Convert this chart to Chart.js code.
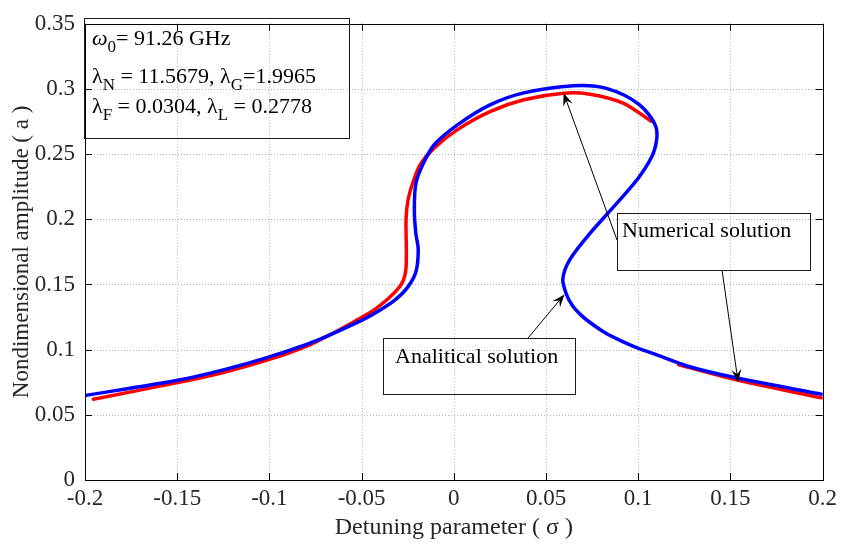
<!DOCTYPE html>
<html>
<head>
<meta charset="utf-8">
<script src="https://cdn.jsdelivr.net/npm/chart.js@4.4.0/dist/chart.umd.min.js"></script>
<style>
  html, body { margin: 0; padding: 0; background: #fff; }
  #wrap { width: 842px; height: 544px; }
</style>
</head>
<body>
<div id="wrap"><canvas id="grafico"></canvas></div>
<script>
/* ----------------------------------------------------------------------
   DADOS
---------------------------------------------------------------------- */
// numerical solution (blue), ordered along the curve
const numX = [-0.2, -0.1505, -0.125, -0.1, -0.077, -0.05, -0.041, -0.032, -0.025, -0.0205, -0.0193,
              -0.0206, -0.0214, -0.0206, -0.0167, -0.0104, 0.0022, 0.0199, 0.038, 0.0649, 0.0828,
              0.1006, 0.1097, 0.1086, 0.1006, 0.0882, 0.0737, 0.0629, 0.0591, 0.0613, 0.0645,
              0.069, 0.0737, 0.082, 0.0919, 0.1005, 0.1097, 0.1274, 0.1543, 0.2];
const numY = [0.0649, 0.0763, 0.0845, 0.0945, 0.1055, 0.1225, 0.1295, 0.138, 0.148, 0.160, 0.1768,
              0.1894, 0.207, 0.2273, 0.2424, 0.2576, 0.2727, 0.288, 0.297, 0.3025, 0.3005,
              0.288, 0.2705, 0.2523, 0.2326, 0.212, 0.189, 0.169, 0.154, 0.1417, 0.1335,
              0.1265, 0.121, 0.113, 0.106, 0.1008, 0.0962, 0.0871, 0.078, 0.0657];

// analytical solution (red), upper branch
const anaX = [-0.1955, -0.1505, -0.125, -0.1, -0.077, -0.0466, -0.0358, -0.0285, -0.0259, -0.0259,
              -0.0248, -0.022, -0.018, -0.0104, 0.0022, 0.0199, 0.038, 0.0595, 0.0737, 0.0918, 0.107];
const anaY = [0.062, 0.0745, 0.0825, 0.0925, 0.1045, 0.1275, 0.1389, 0.150, 0.163, 0.200,
              0.215, 0.229, 0.2424, 0.255, 0.269, 0.2828, 0.2917, 0.2967, 0.296, 0.2892, 0.2753];

// analytical solution (red), lower right branch
const anaRX = [0.122, 0.1543, 0.1995];
const anaRY = [0.0884, 0.0765, 0.063];

const xTicks = [-0.2, -0.15, -0.1, -0.05, 0, 0.05, 0.1, 0.15, 0.2];
const yTicks = [0, 0.05, 0.1, 0.15, 0.2, 0.25, 0.3, 0.35];

const FONT = "'Liberation Serif', 'Times New Roman', serif";
const TXT = "#262626";

const pts = (xs, ys) => xs.map((x, i) => ({ x: x, y: ys[i] }));

/* ----------------------------------------------------------------------
   TEXTO COM SUBSCRITO
---------------------------------------------------------------------- */
function drawRich(ctx, x, y, segs, size) {
    ctx.textBaseline = "alphabetic";
    ctx.textAlign = "left";
    segs.forEach(s => {
        const sz = s.sub ? Math.round(size * 0.75) : size;
        ctx.font = (s.it ? "italic " : "") + sz + "px " + FONT;
        ctx.fillText(s.t, x, s.sub ? y + 7 : y);
        x += ctx.measureText(s.t).width;
    });
}

function arrow(ctx, x1, y1, x2, y2) {
    const a = Math.atan2(y2 - y1, x2 - x1);
    const L = 13, W = 5;
    ctx.beginPath();
    ctx.moveTo(x1, y1);
    ctx.lineTo(x2 - Math.cos(a) * 6, y2 - Math.sin(a) * 6);
    ctx.stroke();
    ctx.beginPath();
    ctx.moveTo(x2, y2);
    ctx.lineTo(x2 - L * Math.cos(a) + W * Math.sin(a), y2 - L * Math.sin(a) - W * Math.cos(a));
    ctx.lineTo(x2 - 8 * Math.cos(a), y2 - 8 * Math.sin(a));
    ctx.lineTo(x2 - L * Math.cos(a) - W * Math.sin(a), y2 - L * Math.sin(a) + W * Math.cos(a));
    ctx.closePath();
    ctx.fill();
}

/* ----------------------------------------------------------------------
   PLUGIN: grade, moldura, anotações
---------------------------------------------------------------------- */
const moldura = {
    id: "moldura",
    beforeDatasetsDraw(chart) {
        const { ctx, chartArea: a, scales } = chart;
        ctx.save();
        ctx.strokeStyle = "#b4b4b4";
        ctx.lineWidth = 1;
        ctx.setLineDash([1, 2]);
        xTicks.forEach(v => {
            const px = Math.round(scales.x.getPixelForValue(v)) + 0.5;
            ctx.beginPath(); ctx.moveTo(px, a.top); ctx.lineTo(px, a.bottom); ctx.stroke();
        });
        yTicks.forEach(v => {
            const py = Math.round(scales.y.getPixelForValue(v)) + 0.5;
            ctx.beginPath(); ctx.moveTo(a.left, py); ctx.lineTo(a.right, py); ctx.stroke();
        });
        ctx.restore();
    },
    afterDatasetsDraw(chart) {
        const { ctx, chartArea: a, scales } = chart;
        const X = v => scales.x.getPixelForValue(v);
        const Y = v => scales.y.getPixelForValue(v);
        ctx.save();
        ctx.strokeStyle = "#000";
        ctx.fillStyle = "#000";
        ctx.lineWidth = 1;

        // frame + inside ticks
        ctx.strokeRect(Math.round(a.left) + 0.5, Math.round(a.top) + 0.5,
                       Math.round(a.right - a.left), Math.round(a.bottom - a.top));
        xTicks.forEach(v => {
            const px = Math.round(X(v)) + 0.5;
            ctx.beginPath();
            ctx.moveTo(px, a.bottom); ctx.lineTo(px, a.bottom - 7);
            ctx.moveTo(px, a.top); ctx.lineTo(px, a.top + 7);
            ctx.stroke();
        });
        yTicks.forEach(v => {
            const py = Math.round(Y(v)) + 0.5;
            ctx.beginPath();
            ctx.moveTo(a.left, py); ctx.lineTo(a.left + 7, py);
            ctx.moveTo(a.right, py); ctx.lineTo(a.right - 7, py);
            ctx.stroke();
        });

        // annotation boxes
        ctx.strokeStyle = "#1a1a1a";
        ctx.strokeRect(84.5, 18.5, 265, 120);
        ctx.strokeRect(617.5, 213.5, 193, 57);
        ctx.strokeRect(383.5, 338.5, 192, 56);

        ctx.fillStyle = "#000";
        drawRich(ctx, 92, 45, [{ t: "ω", it: true }, { t: "0", sub: true }, { t: "= 91.26 GHz" }], 22);
        drawRich(ctx, 92, 83, [{ t: "λ" }, { t: "N", sub: true }, { t: " = 11.5679, λ" },
                               { t: "G", sub: true }, { t: "=1.9965" }], 22);
        drawRich(ctx, 92, 113, [{ t: "λ" }, { t: "F", sub: true }, { t: " = 0.0304, λ" },
                                { t: "L", sub: true }, { t: " = 0.2778" }], 22);
        drawRich(ctx, 622, 237, [{ t: "Numerical solution" }], 22);
        drawRich(ctx, 395, 363, [{ t: "Analitical solution" }], 22);

        // arrows
        ctx.strokeStyle = "#000";
        arrow(ctx, 617, 240, X(0.0595), Y(0.297));
        arrow(ctx, 722, 270, X(0.1542), Y(0.075));
        arrow(ctx, 528, 338, X(0.06), Y(0.1424));
        ctx.restore();
    }
};

/* ----------------------------------------------------------------------
   GRÁFICO
---------------------------------------------------------------------- */
const tickFmt = v => String(Math.round(v * 100) / 100);

new Chart(document.querySelector("#grafico"), {
    type: "scatter",
    data: {
        datasets: [
            { data: pts(numX, numY), borderColor: "#0000ff", borderWidth: 3.5, order: 0 },
            { data: pts(anaX, anaY), borderColor: "#ff0000", borderWidth: 3.5, order: 1 },
            { data: pts(anaRX, anaRY), borderColor: "#ff0000", borderWidth: 3.5, order: 2 }
        ]
    },
    options: {
        responsive: true,
        maintainAspectRatio: false,
        animation: false,
        layout: { padding: { left: 0, top: 18, right: 14, bottom: 0 } },
        elements: {
            point: { radius: 0, hoverRadius: 0 },
            line: { tension: 0.3, borderCapStyle: "round", borderJoinStyle: "round", fill: false }
        },
        datasets: { scatter: { showLine: true } },
        plugins: { legend: { display: false }, tooltip: { enabled: false } },
        scales: {
            x: {
                type: "linear", min: -0.2, max: 0.2,
                afterBuildTicks: s => { s.ticks = xTicks.map(v => ({ value: v })); },
                afterFit: s => { s.height = 64; },
                grid: { display: false, drawTicks: false },
                border: { display: false },
                ticks: { padding: 5, color: TXT, font: { family: FONT, size: 23 }, callback: tickFmt, maxRotation: 0 },
                title: { display: true, text: "Detuning parameter ( σ )", color: TXT,
                         font: { family: FONT, size: 24 }, padding: { top: 0, bottom: 2 } }
            },
            y: {
                type: "linear", min: 0, max: 0.35,
                afterBuildTicks: s => { s.ticks = yTicks.map(v => ({ value: v })); },
                afterFit: s => { s.width = 85; },
                grid: { display: false, drawTicks: false },
                border: { display: false },
                ticks: { padding: 10, color: TXT, font: { family: FONT, size: 23 }, callback: tickFmt },
                title: { display: true, text: "Nondimensional amplitude ( a )", color: TXT,
                         font: { family: FONT, size: 23 }, padding: { top: 8, bottom: 0 } }
            }
        }
    },
    plugins: [moldura]
});
</script>
</body>
</html>
